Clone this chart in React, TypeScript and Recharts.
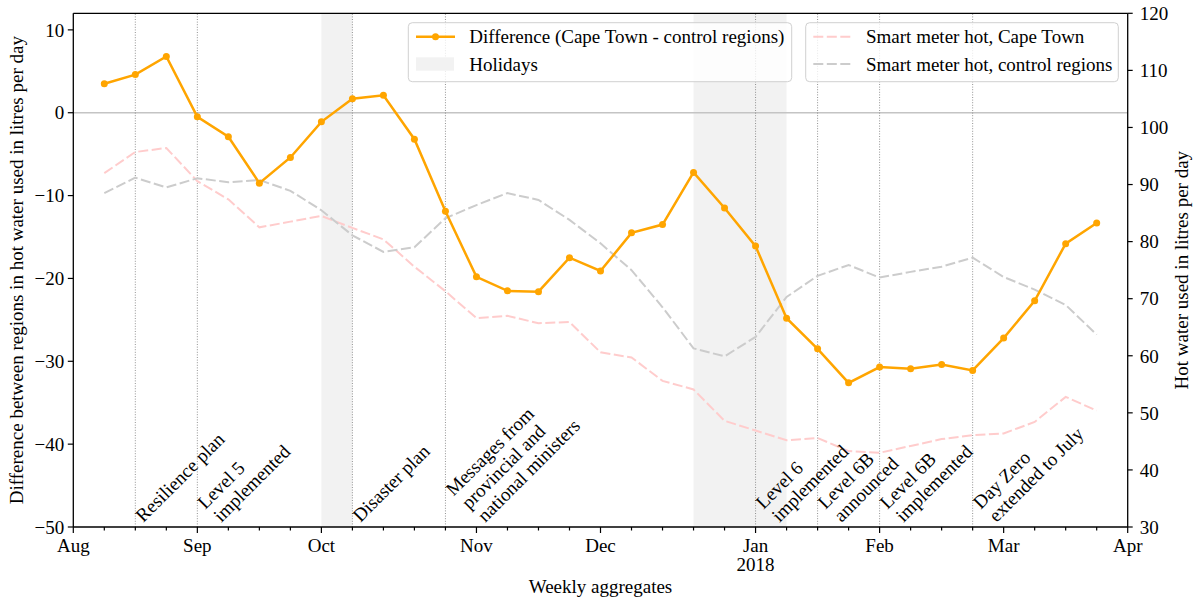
import React from 'react';
import {
  ComposedChart,
  Line,
  XAxis,
  YAxis,
  ReferenceLine,
  ReferenceArea,
  ReferenceDot,
} from 'recharts';

// ---------- data ----------
const weeks = [1, 2, 3, 4, 5, 6, 7, 8, 9, 10, 11, 12, 13, 14, 15, 16, 17, 18, 19, 20, 21, 22, 23, 24, 25, 26, 27, 28, 29, 30, 31, 32, 33];
const difference = [3.5, 4.6, 6.8, -0.5, -2.9, -8.5, -5.4, -1.1, 1.7, 2.1, -3.2, -11.9, -19.8, -21.5, -21.6, -17.5, -19.1, -14.5, -13.5, -7.2, -11.5, -16.1, -24.8, -28.5, -32.6, -30.7, -30.9, -30.4, -31.1, -27.2, -22.7, -15.8, -13.3];
const capeTownHot = [92.0, 95.7, 96.4, 90.6, 87.4, 82.5, 83.5, 84.5, 82.4, 80.4, 75.6, 71.3, 66.6, 67.0, 65.7, 65.9, 60.6, 59.7, 55.6, 54.1, 48.6, 46.9, 45.2, 45.6, 43.3, 43.0, 44.2, 45.4, 46.1, 46.4, 48.4, 52.8, 50.4];
const controlHot = [88.5, 91.2, 89.5, 91.1, 90.4, 90.8, 88.9, 85.5, 81.1, 78.2, 79.0, 84.1, 86.4, 88.5, 87.3, 83.8, 79.7, 75.0, 68.5, 61.3, 59.9, 63.3, 70.3, 74.0, 75.9, 73.7, 74.7, 75.6, 77.2, 73.8, 71.6, 68.9, 63.7];

const allWeekTicks = [0, 1, 2, 3, 4, 5, 6, 7, 8, 9, 10, 11, 12, 13, 14, 15, 16, 17, 18, 19, 20, 21, 22, 23, 24, 25, 26, 27, 28, 29, 30, 31, 32, 33, 34];
const monthWeeks = [0, 4, 8, 13, 17, 22, 26, 30, 34];
const monthLabels = ['Aug', 'Sep', 'Oct', 'Nov', 'Dec', 'Jan', 'Feb', 'Mar', 'Apr'];
const yearLabels = ['', '', '', '', '', '2018', '', '', ''];

const leftTicks = [-50, -40, -30, -20, -10, 0, 10];
const rightTicks = [30, 40, 50, 60, 70, 80, 90, 100, 110, 120];

const holidayStarts = [8, 20];
const holidayEnds = [9, 23];

const eventWeeks = [2, 4, 9, 12, 22, 24, 26, 29];
const eventLabels = [
  ['Resilience plan'],
  ['Level 5', 'implemented'],
  ['Disaster plan'],
  ['Messages from', 'provincial and', 'national ministers'],
  ['Level 6', 'implemented'],
  ['Level 6B', 'announced'],
  ['Level 6B', 'implemented'],
  ['Day Zero', 'extended to July'],
];

const seriesNames = [
  'Difference (Cape Town - control regions)',
  'Holidays',
  'Smart meter hot, Cape Town',
  'Smart meter hot, control regions',
];

// ---------- style ----------
const W = 1197;
const H = 601;
const FONT = '"Liberation Serif", "Times New Roman", serif';
const FS = 19;
const ORANGE = '#ffa500';
const PINK = '#ffcccc';
const GREY = '#cccccc';
const HOLIDAY = '#f2f2f2';

const fmtMinus = (v: number) => (v < 0 ? '\u2212' + Math.abs(v) : String(v));

const XTick = (props: any) => {
  const { x, y, payload } = props;
  const idx = monthWeeks.indexOf(payload.value);
  const major = idx >= 0;
  return (
    <g>
      <line x1={x} x2={x} y1={y} y2={y + (major ? 6 : 3.5)} stroke="#000" strokeWidth={1.2} />
      {major && (
        <text x={x} y={y + 24.7} textAnchor="middle" fontSize={FS} fontFamily={FONT} fill="#000">
          {monthLabels[idx]}
        </text>
      )}
      {major && yearLabels[idx] && (
        <text x={x} y={y + 43.7} textAnchor="middle" fontSize={FS} fontFamily={FONT} fill="#000">
          {yearLabels[idx]}
        </text>
      )}
    </g>
  );
};

const Annotation = ({ cx, cy, lines }: { cx: number; cy: number; lines: string[] }) => {
  const n = lines.length;
  const ox = cx + 8;
  const oy = cy - 4 - 13.1 * (n - 1);
  return (
    <text transform={`translate(${ox},${oy}) rotate(-45)`} fontSize={FS} fontFamily={FONT} fill="#000">
      {lines.map((l, i) => (
        <tspan key={i} x={i * 2} y={i * 20.5}>
          {l}
        </tspan>
      ))}
    </text>
  );
};

const XTitle = (props: any) => {
  const vb = props.viewBox || {};
  return (
    <text x={vb.x + vb.width / 2} y={vb.y + 66} textAnchor="middle" fontSize={FS} fontFamily={FONT} fill="#000">
      Weekly aggregates
    </text>
  );
};

const LeftTitle = (props: any) => {
  const vb = props.viewBox || {};
  const x = vb.x + 17;
  const y = vb.y + vb.height / 2;
  return (
    <text x={x} y={y} transform={`rotate(-90 ${x} ${y})`} textAnchor="middle" dominantBaseline="central" fontSize={FS} fontFamily={FONT} fill="#000">
      Difference between regions in hot water used in litres per day
    </text>
  );
};

const RightTitle = (props: any) => {
  const vb = props.viewBox || {};
  const x = vb.x + 54;
  const y = vb.y + vb.height / 2;
  return (
    <text x={x} y={y} transform={`rotate(-90 ${x} ${y})`} textAnchor="middle" dominantBaseline="central" fontSize={FS} fontFamily={FONT} fill="#000">
      Hot water used in litres per day
    </text>
  );
};

const Legends = () => (
  <svg width={W} height={H} style={{ position: 'absolute', left: 0, top: 0, pointerEvents: 'none' }}>
    <g fontFamily={FONT} fontSize={FS} fill="#000">
      <rect x={408.3} y={22.7} width={383.4} height={59} rx={4} fill="#fff" fillOpacity={0.8} stroke="#d0d0d0" strokeWidth={1} />
      <line x1={416} x2={455} y1={36.7} y2={36.7} stroke={ORANGE} strokeWidth={2.5} />
      <circle cx={435.5} cy={36.7} r={3.5} fill={ORANGE} />
      <text x={469.3} y={36.7} dominantBaseline="central">{seriesNames[0]}</text>
      <rect x={416} y={57.3} width={38} height={13.4} fill={HOLIDAY} />
      <text x={469.3} y={64} dominantBaseline="central">{seriesNames[1]}</text>

      <rect x={805.7} y={22.7} width={312.6} height={59} rx={4} fill="#fff" fillOpacity={0.8} stroke="#d0d0d0" strokeWidth={1} />
      <line x1={813.3} x2={850.7} y1={36.7} y2={36.7} stroke={PINK} strokeWidth={2} strokeDasharray="10 3.5" />
      <text x={866} y={36.7} dominantBaseline="central">{seriesNames[2]}</text>
      <line x1={813.3} x2={850.7} y1={64} y2={64} stroke={GREY} strokeWidth={2} strokeDasharray="10 3.5" />
      <text x={866} y={64} dominantBaseline="central">{seriesNames[3]}</text>
    </g>
  </svg>
);

export default function App() {
  const data = weeks.map((w, i) => ({ week: w, diff: difference[i], ct: capeTownHot[i], ctrl: controlHot[i] }));
  return (
    <div style={{ position: 'fixed', left: 0, top: 0, width: W, height: H, background: '#fff' }}>
      <ComposedChart width={W} height={H} data={data} margin={{ top: 13.3, right: 0, bottom: 0, left: 0 }}>
        <XAxis
          dataKey="week"
          type="number"
          domain={[0, 34]}
          ticks={allWeekTicks}
          interval={0}
          allowDataOverflow
          tick={<XTick />}
          tickLine={false}
          tickSize={0}
          tickMargin={0}
          height={74}
          axisLine={{ stroke: '#000', strokeWidth: 1.3 }}
          label={{ content: XTitle }}
        />
        <YAxis
          yAxisId="left"
          domain={[-50, 12]}
          ticks={leftTicks}
          allowDataOverflow
          interval={0}
          width={73.3}
          tickFormatter={fmtMinus}
          tick={{ fontSize: FS, fontFamily: FONT, fill: '#000' }}
          tickLine={{ stroke: '#000', strokeWidth: 1.2 }}
          tickSize={5.5}
          tickMargin={3.5}
          axisLine={{ stroke: '#000', strokeWidth: 1.3 }}
          label={{ content: LeftTitle }}
        />
        <YAxis
          yAxisId="right"
          orientation="right"
          domain={[30, 120]}
          ticks={rightTicks}
          allowDataOverflow
          interval={0}
          width={69.3}
          tick={{ fontSize: FS, fontFamily: FONT, fill: '#000' }}
          tickLine={{ stroke: '#000', strokeWidth: 1.2 }}
          tickSize={5}
          tickMargin={7}
          axisLine={{ stroke: '#000', strokeWidth: 1.3 }}
          label={{ content: RightTitle }}
        />
        {holidayStarts.map((s, i) => (
          <ReferenceArea key={'h' + i} yAxisId="left" x1={s} x2={holidayEnds[i]} fill={HOLIDAY} fillOpacity={1} stroke="none" ifOverflow="visible" />
        ))}
        <ReferenceLine yAxisId="left" y={0} stroke="#c4c4c4" strokeWidth={1.3} />
        {eventWeeks.map((w, i) => (
          <ReferenceLine key={'e' + i} yAxisId="left" x={w} stroke="#777" strokeDasharray="1 1.6" strokeWidth={0.8} />
        ))}
        <Line yAxisId="right" dataKey="ct" stroke={PINK} strokeWidth={2} strokeDasharray="10 3.5" dot={false} isAnimationActive={false} />
        <Line yAxisId="right" dataKey="ctrl" stroke={GREY} strokeWidth={2} strokeDasharray="10 3.5" dot={false} isAnimationActive={false} />
        <Line
          yAxisId="left"
          dataKey="diff"
          stroke={ORANGE}
          strokeWidth={2.5}
          dot={{ r: 3.5, fill: ORANGE, stroke: ORANGE, strokeWidth: 0 }}
          isAnimationActive={false}
        />
        {eventWeeks.map((w, i) => (
          <ReferenceDot
            key={'a' + i}
            yAxisId="left"
            x={w}
            y={-50}
            ifOverflow="visible"
            shape={(p: any) => <Annotation cx={p.cx} cy={p.cy} lines={eventLabels[i]} />}
          />
        ))}
        <ReferenceLine yAxisId="left" y={12} stroke="#000" strokeWidth={1.3} ifOverflow="visible" />
      </ComposedChart>
      <Legends />
    </div>
  );
}
